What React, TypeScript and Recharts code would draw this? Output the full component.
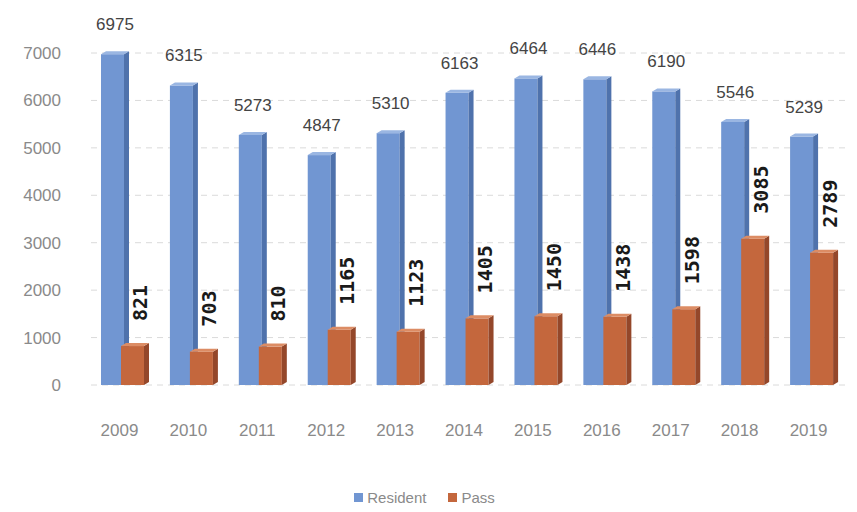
import React from "react";
import { BarChart, Bar, XAxis, YAxis, CartesianGrid, Legend, LabelList } from "recharts";

const years = ["2009", "2010", "2011", "2012", "2013", "2014", "2015", "2016", "2017", "2018", "2019"];
const resident = [6975, 6315, 5273, 4847, 5310, 6163, 6464, 6446, 6190, 5546, 5239];
const pass = [821, 703, 810, 1165, 1123, 1405, 1450, 1438, 1598, 3085, 2789];
const yTicks = [0, 1000, 2000, 3000, 4000, 5000, 6000, 7000];
const seriesNames = ["Resident", "Pass"];

const data = years.map((year, i) => ({ year, resident: resident[i], pass: pass[i] }));

const FONT = "'Liberation Sans', Arial, sans-serif";
const BLUE = "#7196d2";
const ORANGE = "#c4673d";

// 3D-ish column: front face, darker right side, light top
function makeBox(front: string, side: string, top: string) {
    return (props: any) => {
        const { x, y, width, height } = props;
        if (!height || height <= 0) return null;
        const d = 5;
        const w = width - d;
        return (
            <g>
                <rect x={x} y={y} width={w} height={height} fill={front} />
                <polygon
                    points={`${x + w},${y} ${x + w + d},${y - 3} ${x + w + d},${y + height - 3} ${x + w},${y + height}`}
                    fill={side}
                />
                <polygon
                    points={`${x},${y} ${x + d},${y - 3} ${x + w + d},${y - 3} ${x + w},${y}`}
                    fill={top}
                />
            </g>
        );
    };
}

const ResidentBox = makeBox(BLUE, "#4f72ac", "#9ab6e2");
const PassBox = makeBox(ORANGE, "#94472a", "#dc8c64");

const PassLabel = (props: any) => {
    const { x, y, width, value } = props;
    const cx = x + width / 2 + 7;
    const cy = y - 25;
    return (
        <text
            x={cx}
            y={cy}
            transform={`rotate(-90 ${cx} ${cy})`}
            textAnchor="start"
            dominantBaseline="middle"
            fontFamily="'DejaVu Sans Mono', monospace"
            fontWeight="bold"
            fontSize={20}
            fill="#1a1a1a"
        >
            {value}
        </text>
    );
};

const colorOf: Record<string, string> = { Resident: BLUE, Pass: ORANGE };

const LegendBox = () => (
    <div style={{ display: "flex", justifyContent: "center", gap: 22, fontFamily: FONT, fontSize: 15, color: "#8a8a8a" }}>
        {seriesNames.map((n) => (
            <span key={n} style={{ display: "flex", alignItems: "center", gap: 4 }}>
                <span style={{ width: 9, height: 9, background: colorOf[n], display: "inline-block" }} />
                {n}
            </span>
        ))}
    </div>
);

export default function App() {
    return (
        <div style={{ width: 857, height: 512, background: "#fff" }}>
            <style>{`body{margin:0}`}</style>
            <BarChart
                width={857}
                height={512}
                data={data}
                margin={{ top: 53, right: 8, left: 0, bottom: 33 }}
                barGap={-8}
                barSize={28}
            >
                <CartesianGrid vertical={false} stroke="#dadada" strokeDasharray="6 5" />
                <XAxis
                    dataKey="year"
                    axisLine={false}
                    tickLine={false}
                    tickMargin={33}
                    height={72}
                    tick={{ fill: "#8a8a8a", fontSize: 17, fontFamily: FONT, dx: -6 }}
                    interval={0}
                />
                <YAxis
                    domain={[0, 7000]}
                    ticks={yTicks}
                    axisLine={false}
                    tickLine={false}
                    width={91}
                    tickMargin={24}
                    tick={{ fill: "#8a8a8a", fontSize: 17, fontFamily: FONT }}
                />
                <Legend height={30} content={LegendBox} wrapperStyle={{ top: 489, height: 22 }} />
                <Bar dataKey="resident" name="Resident" fill={BLUE} shape={ResidentBox} isAnimationActive={false}>
                    <LabelList
                        dataKey="resident"
                        position="top"
                        offset={24}
                        fill="#444"
                        fontSize={17}
                        fontFamily={FONT}
                    />
                </Bar>
                <Bar dataKey="pass" name="Pass" fill={ORANGE} shape={PassBox} isAnimationActive={false}>
                    <LabelList dataKey="pass" content={PassLabel} />
                </Bar>
            </BarChart>
        </div>
    );
}
